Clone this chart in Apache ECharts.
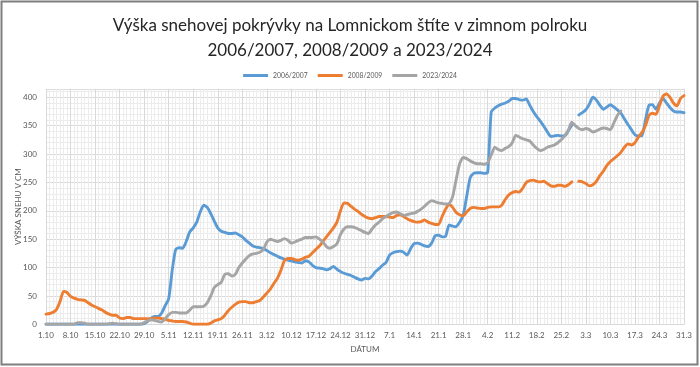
<!DOCTYPE html>
<html>
<head>
<meta charset="utf-8">
<script src="https://cdn.jsdelivr.net/npm/echarts@6/dist/echarts.min.js"></script>
<style>
html,body{margin:0;padding:0;background:#fff;}
#chart{width:700px;height:367px;}
</style>
</head>
<body>
<div id="chart"></div>
<script>
// Month definitions for the winter half-year axis (day.month labels)
const months = [[10,31],[11,30],[12,31],[1,31],[2,29],[3,31]];
const categories = [];
months.forEach(function(m){ for (let d = 1; d <= m[1]; d++) categories.push(d + '.' + m[0]); });

const seriesNames = ['2006/2007', '2008/2009', '2023/2024'];

const s2006 = [
  0,0,0,0,0,0,0,0,0,0, 0,0,0,0,0,0,0,0,0,0, 0,0,0,0,0,0,0,0,
  1,5,11,14,14,20,33,45,95,132,
  135,134,146,163,170,180,198,210,206,195,
  182,170,164,162,160,160,161,158,154,148,
  143,138,136,135,133,130,126,123,120,117,
  115,113,112,110,109,108,112,110,104,100,
  99,98,96,98,102,97,93,90,88,86,
  83,80,78,81,80,85,93,98,104,109,
  122,126,128,129,127,122,133,142,143,141,
  138,137,143,156,157,154,155,175,173,172,
  180,192,225,258,266,267,267,266,268,374,
  381,385,388,390,393,398,398,396,395,397,
  386,375,366,358,349,339,331,332,333,332,
  332,341,351,null,369,373,378,388,400,395,
  386,379,383,387,383,378,372,362,352,343,
  334,332,332,360,386,387,379,390,398,390,
  382,376,374,374,373
];

const s2008 = [
  18,19,21,26,40,58,56,49,46,44,
  43,42,38,34,31,28,25,21,18,16,
  16,11,10,12,12,10,10,10,10,10,
  10,11,11,10,9,7,6,5,5,5,
  4,2,0,0,0,0,0,2,6,8,
  10,16,24,30,35,39,40,40,38,38,
  40,42,48,55,62,72,81,95,112,116,
  116,114,113,115,118,120,126,132,138,146,
  154,162,170,180,200,214,213,208,203,199,
  194,190,187,186,188,190,190,190,189,188,
  192,193,190,186,183,181,180,181,184,180,
  178,176,176,190,203,211,206,197,193,191,
  198,204,206,205,204,204,206,207,207,207,
  210,220,228,232,234,233,240,250,253,254,
  252,251,252,248,244,243,245,245,243,246,
  251,null,252,251,248,244,246,252,262,270,
  280,287,292,297,303,312,318,316,320,330,
  338,350,368,372,370,385,402,406,400,390,
  385,398,403
];

const s2023 = [
  0,0,0,0,0,0,0,0,0,3,
  3,2,0,0,0,0,0,0,1,2,
  1,0,0,0,0,0,0,0,3,6,
  8,7,5,4,10,17,21,21,20,20,
  20,25,31,31,31,32,38,50,65,70,
  74,88,89,85,88,100,108,115,121,124,
  125,127,132,145,150,148,146,148,151,148,
  143,145,148,150,153,153,153,154,150,145,
  137,134,137,142,158,168,172,172,171,168,
  165,162,160,168,175,180,186,190,194,197,
  198,195,192,193,195,196,199,203,208,214,
  218,216,214,213,212,213,225,255,283,294,
  292,288,285,283,283,282,285,298,312,308,
  306,310,313,320,333,330,327,325,323,316,
  310,306,308,312,314,316,320,325,333,342,
  356,350,345,343,345,343,339,341,344,346,
  345,343,355,368,376,null,null,null,null,null,
  null,null,null,null,null,null,null,null,null,null,
  null,null,null
];

const colors = ['#5B9BD5', '#ED7D31', '#A5A5A5'];
const fontFam = 'Lato, "Open Sans", sans-serif';

const chart = echarts.init(document.getElementById('chart'), null, {renderer: 'canvas'});

function lineSeries(name, data, color) {
  return {
    name: name, type: 'line', data: data, xAxisIndex: 0, yAxisIndex: 0,
    showSymbol: false, symbol: 'none', connectNulls: false, smooth: 0.2,
    lineStyle: {color: color, width: 2.9, cap: 'round', join: 'round'},
    itemStyle: {color: color}
  };
}

chart.setOption({
  animation: false,
  color: colors,
  title: {
    text: 'Výška snehovej pokrývky na Lomnickom štíte v zimnom polroku\n2006/2007, 2008/2009 a 2023/2024',
    left: 'center', top: 8,
    textStyle: {fontFamily: fontFam, fontSize: 17, fontWeight: 'normal', color: '#262626', lineHeight: 25}
  },
  legend: {
    top: 67, left: 'center', itemWidth: 25, itemHeight: 3, itemGap: 10, icon: 'rect',
    textStyle: {fontFamily: fontFam, fontSize: 6.8, color: '#595959'},
    data: seriesNames
  },
  graphic: [{
    type: 'rect', silent: true, z: -10,
    shape: {x: 1.5, y: 1.5, width: 696, height: 363},
    style: {fill: 'none', stroke: '#7f7f7f', lineWidth: 2}
  }],
  grid: {left: 46, right: 16, top: 88.8, bottom: 42.7, containLabel: false},
  xAxis: [{
    type: 'category', data: categories, boundaryGap: false,
    axisLine: {show: true, lineStyle: {color: '#d9d9d9'}},
    axisTick: {show: false},
    axisLabel: {interval: 6, color: '#595959', fontFamily: fontFam, fontSize: 8, margin: 7},
    splitLine: {show: false},
    name: 'DÁTUM', nameLocation: 'middle', nameGap: 21, nameMoveOverlap: false,
    nameTextStyle: {fontFamily: fontFam, fontSize: 8, color: '#595959'}
  }, {
    type: 'value', min: 0, max: 182, interval: 7, position: 'bottom',
    axisLine: {show: false}, axisTick: {show: false}, axisLabel: {show: false},
    splitLine: {show: true, lineStyle: {color: '#d9d9d9', width: 1}},
    minorTick: {show: false, splitNumber: 7},
    minorSplitLine: {show: true, lineStyle: {color: '#ececec', width: 1}}
  }],
  yAxis: [{
    type: 'value', min: 0, max: 415, interval: 50,
    axisLine: {show: false}, axisTick: {show: false},
    axisLabel: {color: '#595959', fontFamily: fontFam, fontSize: 8, margin: 9,
      formatter: function(v){ return v % 50 === 0 ? String(v) : ''; }},
    splitLine: {show: true, lineStyle: {color: '#d9d9d9', width: 1}},
    minorTick: {show: false, splitNumber: 5},
    minorSplitLine: {show: true, lineStyle: {color: '#ececec', width: 1}},
    name: 'VÝŠKA SNEHU V CM', nameLocation: 'middle', nameGap: 24, nameRotate: 90, nameMoveOverlap: false,
    nameTextStyle: {fontFamily: fontFam, fontSize: 8, color: '#595959'}
  }],
  series: [
    lineSeries(seriesNames[0], s2006, colors[0]),
    lineSeries(seriesNames[1], s2008, colors[1]),
    lineSeries(seriesNames[2], s2023, colors[2])
  ]
});
</script>
</body>
</html>
